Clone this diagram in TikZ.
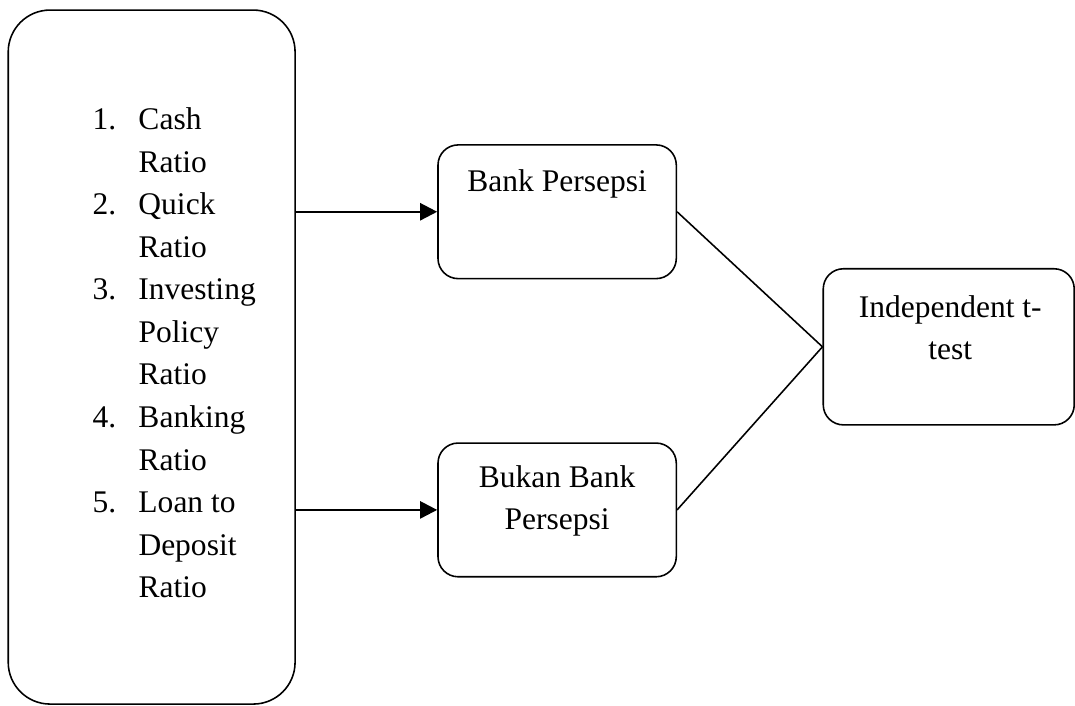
\documentclass[tikz,border=0pt]{standalone}
\usepackage{fontspec}
\setmainfont{Liberation Serif}
\usetikzlibrary{arrows.meta,positioning}

\begin{document}
\begin{tikzpicture}[b/.style={draw,rounded corners=0.27cm,line width=0.6pt,minimum width=3.19cm,minimum height=1.79cm},
  t/.style={anchor=base,align=center,inner sep=0pt,font=\fontsize{12}{16}\selectfont},
  >={Triangle[length=6.5pt,width=6.5pt]}]
\useasboundingbox (0,0) rectangle (14.39,9.45);
\node[draw,rounded corners=0.56cm,line width=0.6pt,minimum width=3.84cm,minimum height=9.29cm] (v) at (2.03,4.67) {};
\node[anchor=base west,inner sep=0pt,font=\fontsize{12}{16.2}\selectfont] (l) at (1.232,7.713)
  {\begin{tabular}[t]{@{}l@{\hspace{8.5pt}}l@{}}
   1. & Cash\\ & Ratio\\
   2. & Quick\\ & Ratio\\
   3. & Investing\\ & Policy\\ & Ratio\\
   4. & Banking\\ & Ratio\\
   5. & Loan to\\ & Deposit\\ & Ratio
   \end{tabular}};
\node[b] (bp) at (7.458,6.615) {};
\node[t] (bpt) at (7.458,6.882) {Bank Persepsi};
\node[b] (nb) at (7.458,2.624) {};
\node[t] (nbt) at (7.458,2.357) {Bukan Bank\\Persepsi};
\node[b,minimum width=3.36cm,minimum height=2.09cm] (it) at (12.70,4.807) {};
\node[t] (itt) at (12.72,4.633) {Independent t-\\test};
\draw[->,line width=0.9pt] (bp.west -| v.east)--(bp.west);
\draw[->,line width=0.9pt] (nb.west -| v.east)--(nb.west);
\draw[line width=0.6pt] (bp.east)--(it.west);
\draw[line width=0.6pt] (nb.east)--(it.west);
\end{tikzpicture}
\end{document}
